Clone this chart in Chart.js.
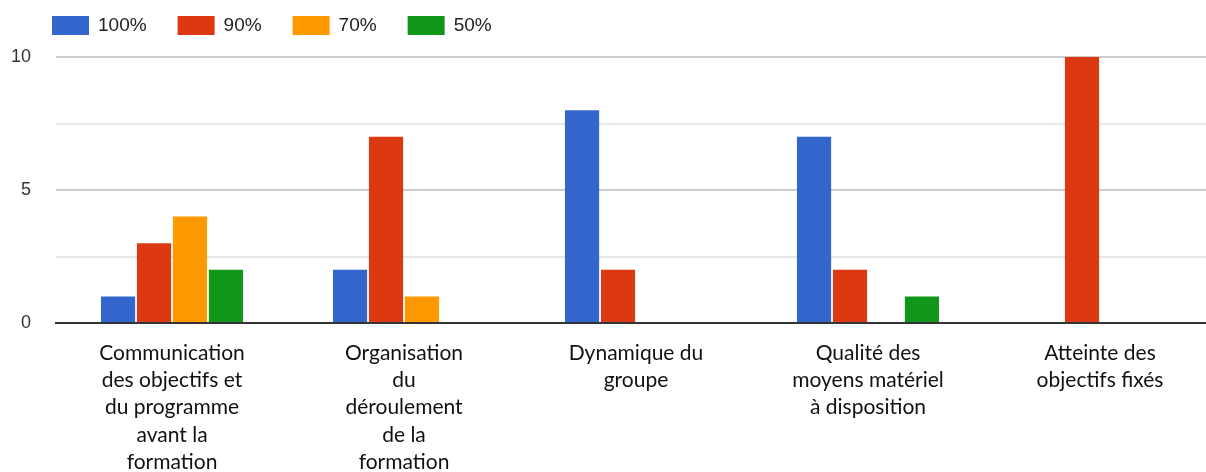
<!DOCTYPE html>
<html lang="fr">
<head>
<meta charset="utf-8">
<title>Évaluation de la formation</title>
<script src="https://cdn.jsdelivr.net/npm/chart.js@4/dist/chart.umd.min.js"></script>
<style>
    html, body { margin: 0; padding: 0; background: #fff; overflow: hidden; }
    #wrap { position: absolute; left: 0; top: 0; width: 1232px; height: 472px; }
</style>
</head>
<body>
<div id="wrap"><canvas id="chartEval"></canvas></div>
<script>
// --- Data ---
const categories = [
    ["Communication", "des objectifs et", "du programme", "avant la", "formation"],
    ["Organisation", "du", "déroulement", "de la", "formation"],
    ["Dynamique du", "groupe"],
    ["Qualité des", "moyens matériel", "à disposition"],
    ["Atteinte des", "objectifs fixés"]
];
const seriesLabels = ["100%", "90%", "70%", "50%"];
const values100 = [1, 2, 8, 7, 0];
const values90 = [3, 7, 2, 2, 10];
const values70 = [4, 1, 0, 0, 0];
const values50 = [2, 0, 0, 1, 0];
const yTicks = [0, 5, 10];

const colors = ['#3366cc', '#dc3912', '#ff9900', '#109618'];

// Legend drawn at the top-left, Google Charts style
const topLegend = {
    id: 'topLegend',
    afterDraw(chart) {
        const ctx = chart.ctx;
        ctx.save();
        ctx.font = '19px "Liberation Sans", Arial, sans-serif';
        ctx.textBaseline = 'middle';
        let x = 52;
        chart.data.datasets.forEach(ds => {
            ctx.fillStyle = ds.backgroundColor;
            ctx.fillRect(x, 16, 37, 19);
            ctx.fillStyle = '#222';
            ctx.fillText(ds.label, x + 46, 26);
            x += 46 + ctx.measureText(ds.label).width + 31;
        });
        ctx.restore();
    }
};

const seriesData = [values100, values90, values70, values50];

new Chart(document.getElementById("chartEval").getContext('2d'), {
    type: 'bar',
    data: {
        labels: categories,
        datasets: seriesLabels.map((label, i) => ({
            label: label,
            data: seriesData[i],
            backgroundColor: colors[i],
            borderWidth: 0,
            categoryPercentage: 0.62,
            barPercentage: 0.95
        }))
    },
    options: {
        responsive: true,
        maintainAspectRatio: false,
        animation: false,
        layout: { padding: { top: 57, left: 0, right: 16, bottom: 0 } },
        plugins: {
            legend: { display: false },
            tooltip: { enabled: false }
        },
        scales: {
            x: {
                grid: { display: false, drawTicks: false },
                border: { display: true, color: '#333', width: 2 },
                ticks: {
                    color: '#111',
                    padding: 17,
                    maxRotation: 0,
                    autoSkip: false,
                    font: { family: 'Lato, "Open Sans", sans-serif', size: 21, lineHeight: 1.29 }
                },
                afterFit: scale => { scale.height = 149; }
            },
            y: {
                min: 0,
                max: 10,
                border: { display: false },
                grid: {
                    drawTicks: false,
                    color: c => c.tick.value === 0 ? 'rgba(0,0,0,0)' : (c.tick.value % 5 === 0 ? '#cccccc' : '#e8e8e8'),
                    lineWidth: 2
                },
                ticks: {
                    stepSize: 2.5,
                    padding: 25,
                    color: '#333',
                    font: { family: '"Liberation Sans", Arial, sans-serif', size: 18 },
                    callback: v => yTicks.includes(v) ? v : ''
                },
                afterFit: scale => { scale.width = 56; }
            }
        }
    },
    plugins: [topLegend]
});
</script>
</body>
</html>
